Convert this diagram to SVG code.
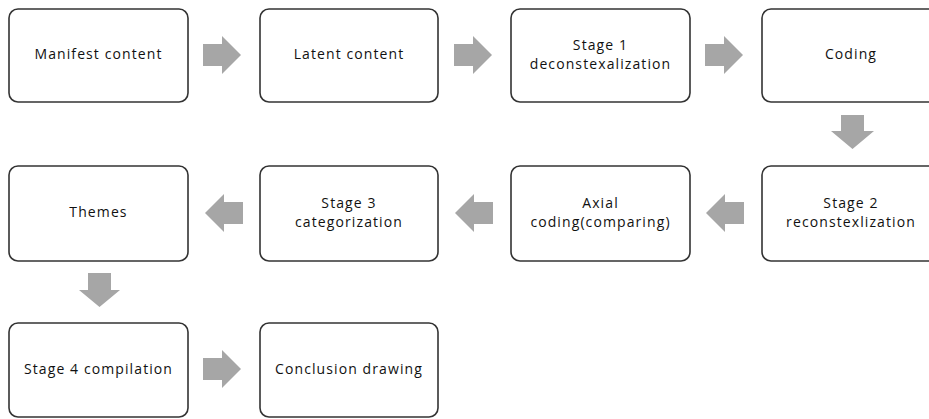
<svg xmlns="http://www.w3.org/2000/svg" width="929" height="419" viewBox="0 0 929 419">
<style>
.box{fill:#fff;stroke:#333;stroke-width:1.6}
.t{font-family:"Open Sans","Liberation Sans",sans-serif;font-size:14px;letter-spacing:1.1px;fill:#111;text-anchor:middle}
.ar{fill:#a6a6a6}
</style>
<rect width="929" height="419" fill="#fff"/>
<g id="n1"><rect class="box" x="9" y="9" width="179" height="93" rx="9"/><text class="t" x="98.5" y="59">Manifest content</text></g>
<g id="n2"><rect class="box" x="260" y="9" width="178" height="93" rx="9"/><text class="t" x="349" y="59">Latent content</text></g>
<g id="n3"><rect class="box" x="511" y="9" width="179" height="93" rx="9"/><text class="t" x="600.5" y="50">Stage 1</text><text class="t" x="600.5" y="69">deconstexalization</text></g>
<g id="n4"><rect class="box" x="762" y="9" width="179" height="93" rx="9"/><text class="t" x="851" y="59">Coding</text></g>
<g id="n5"><rect class="box" x="762" y="166" width="179" height="95" rx="9"/><text class="t" x="851" y="208">Stage 2</text><text class="t" x="851" y="227">reconstexlization</text></g>
<g id="n6"><rect class="box" x="511" y="166" width="179" height="95" rx="9"/><text class="t" x="600.5" y="208">Axial</text><text class="t" x="600.5" y="227">coding(comparing)</text></g>
<g id="n7"><rect class="box" x="260" y="166" width="178" height="95" rx="9"/><text class="t" x="349" y="208">Stage 3</text><text class="t" x="349" y="227">categorization</text></g>
<g id="n8"><rect class="box" x="9" y="166" width="179" height="95" rx="9"/><text class="t" x="98.5" y="217">Themes</text></g>
<g id="n9"><rect class="box" x="9" y="323" width="179" height="94" rx="9"/><text class="t" x="98.5" y="374">Stage 4 compilation</text></g>
<g id="n10"><rect class="box" x="260" y="323" width="178" height="94" rx="9"/><text class="t" x="349" y="374">Conclusion drawing</text></g>
<g id="connectors">
<path class="ar" d="M203 44H222V36L241 55L222 74V66H203Z"/>
<path class="ar" d="M454 44H473V36L492 55L473 74V66H454Z"/>
<path class="ar" d="M705 44H724V36L743 55L724 74V66H705Z"/>
<path class="ar" d="M841 115H864V131H874L852.5 149L831 131H841Z"/>
<path class="ar" d="M744 202H725V194L706 213L725 232V224H744Z"/>
<path class="ar" d="M493 202H474V194L455 213L474 232V224H493Z"/>
<path class="ar" d="M243 202H224V194L205 213L224 232V224H243Z"/>
<path class="ar" d="M88 273H111V290H120L99.5 307L79 290H88Z"/>
<path class="ar" d="M203 358H222V350L241 369L222 388V380H203Z"/>
</g>
</svg>
